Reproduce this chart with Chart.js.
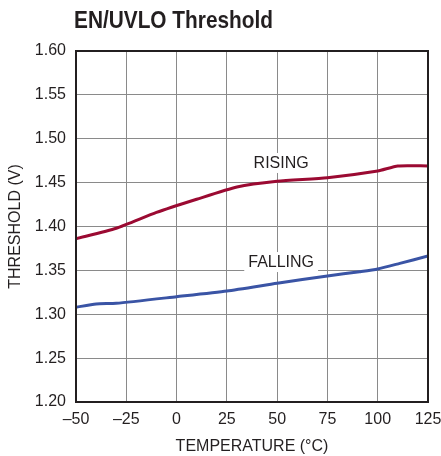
<!DOCTYPE html>
<html>
<head>
<meta charset="utf-8">
<script src="https://cdn.jsdelivr.net/npm/chart.js@4"></script>
<style>
html,body{margin:0;padding:0;background:#fff;}
#wrap{width:441px;height:456px;position:relative;}
</style>
</head>
<body>
<div id="wrap"><canvas id="c" width="441" height="456"></canvas></div>
<script>
const titleText = "EN/UVLO Threshold";
const xTitle = "TEMPERATURE (°C)";
const yTitle = "THRESHOLD (V)";
const xTickLabels = {"-50":"–50","-25":"–25","0":"0","25":"25","50":"50","75":"75","100":"100","125":"125"};
const risingTemps = [-50, -30, -10, 10, 30, 50, 75, 100, 110, 125];
const risingVals  = [1.386, 1.398, 1.416, 1.431, 1.445, 1.4515, 1.4556, 1.4632, 1.469, 1.469];
const fallingTemps = [-50, -40, -30, 0, 25, 50, 75, 91, 100, 111, 125];
const fallingVals  = [1.308, 1.3117, 1.3125, 1.320, 1.3265, 1.3353, 1.3436, 1.3485, 1.3516, 1.358, 1.3664];
const curveLabels = [
  {text: "RISING", t: 52, v: 1.4724},
  {text: "FALLING", t: 52, v: 1.3595}
];

const FONT = "'Liberation Sans', Arial, sans-serif";

const decor = {
  id: 'decor',
  beforeDatasetsDraw(chart) {
    const ctx = chart.ctx;
    const xs = chart.scales.x, ys = chart.scales.y;
    ctx.save();
    ctx.font = "16px " + FONT;
    ctx.textAlign = 'center';
    ctx.textBaseline = 'middle';
    curveLabels.forEach(l => {
      const x = xs.getPixelForValue(l.t), y = ys.getPixelForValue(l.v);
      const w = ctx.measureText(l.text).width + 8;
      ctx.fillStyle = '#fff';
      ctx.fillRect(x - w/2, y - 10, w, 20);
      ctx.fillStyle = '#231f20';
      ctx.fillText(l.text, x, y + 1);
    });
    ctx.restore();
  },
  afterDatasetsDraw(chart) {
    const ctx = chart.ctx, a = chart.chartArea;
    ctx.save();
    ctx.strokeStyle = '#231f20';
    ctx.lineWidth = 2;
    ctx.strokeRect(a.left, a.top, a.right - a.left, a.bottom - a.top);
    ctx.restore();
  },
  afterDraw(chart) {
    const ctx = chart.ctx;
    ctx.save();
    ctx.font = "bold 24px " + FONT;
    ctx.fillStyle = '#231f20';
    ctx.textAlign = 'left';
    ctx.textBaseline = 'alphabetic';
    const w = ctx.measureText(titleText).width;
    const sx = 199 / w;
    ctx.translate(74, 28);
    ctx.scale(sx, 1);
    ctx.fillText(titleText, 0, 0);
    ctx.restore();
  }
};

new Chart(document.getElementById('c'), {
  type: 'line',
  data: {
    datasets: [
      {label: 'RISING', data: risingTemps.map((t,i)=>({x:t,y:risingVals[i]})), borderColor: '#9b0a32', borderWidth: 3, pointRadius: 0, tension: 0.2, fill: false},
      {label: 'FALLING', data: fallingTemps.map((t,i)=>({x:t,y:fallingVals[i]})), borderColor: '#3a54a5', borderWidth: 3, pointRadius: 0, tension: 0.2, fill: false}
    ]
  },
  options: {
    responsive: false,
    animation: false,
    devicePixelRatio: 1,
    layout: {padding: {top: 51, right: 13, left: 6, bottom: 0}},
    plugins: {legend: {display: false}, tooltip: {enabled: false}, title: {display: false}},
    scales: {
      x: {
        type: 'linear', min: -50, max: 125,
        afterFit(s) { s.height = 54; s.paddingLeft = 0; s.paddingRight = 0; },
        ticks: {stepSize: 25, color: '#231f20', font: {size: 16, family: FONT}, padding: 8, maxRotation: 0,
          callback: v => xTickLabels[String(v)] ?? ''},
        grid: {color: '#8a8a8a', lineWidth: 1, drawTicks: false},
        border: {display: false},
        title: {display: true, text: xTitle, color: '#231f20', font: {size: 16, family: FONT}, padding: {top: 4, bottom: 0}}
      },
      y: {
        type: 'linear', min: 1.2, max: 1.6,
        afterFit(s) { s.width = 70; s.paddingTop = 0; s.paddingBottom = 0; },
        ticks: {stepSize: 0.05, color: '#231f20', font: {size: 16, family: FONT}, padding: 10,
          callback: v => Number(v).toFixed(2)},
        grid: {color: '#8a8a8a', lineWidth: 1, drawTicks: false},
        border: {display: false},
        title: {display: true, text: yTitle, color: '#231f20', font: {size: 16, family: FONT}, padding: {top: 0, bottom: 0}}
      }
    }
  },
  plugins: [decor]
});
</script>
</body>
</html>
